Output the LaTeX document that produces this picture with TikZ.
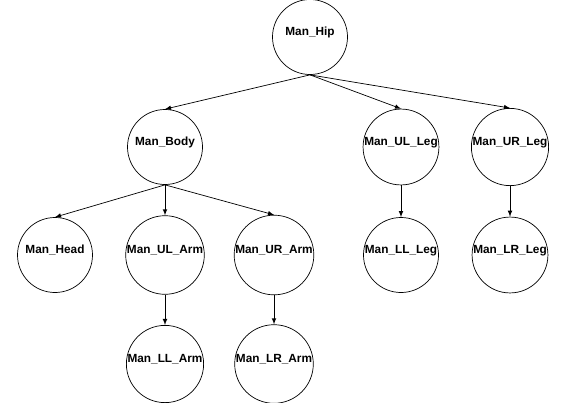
\documentclass[tikz,border=0pt]{standalone}
\usepackage{fontspec}
\setsansfont{Liberation Sans}
\usetikzlibrary{positioning}

\begin{document}
\begin{tikzpicture}[
    x=0.025cm, y=-0.025cm,
    joint/.style={draw, circle, minimum size=1.875cm, inner sep=0pt, line width=0.5pt, text height=6pt, text depth=8pt, font=\sffamily\bfseries\fontsize{8.4}{10}\selectfont},
    link/.style={->, line width=0.5pt},
    >=latex
]
    \useasboundingbox (0,0) rectangle (565,402);

    % Root
    \node[joint] (hip) at (310,37) {Man\_Hip};

    % Second row
    \node[joint] (body) at (165,147) {Man\_Body};
    \node[joint] (ulleg) at (401,147) {Man\_UL\_Leg};
    \node[joint] (urleg) at (510,147) {Man\_UR\_Leg};

    % Third row
    \node[joint] (head) at (55,255) {Man\_Head};
    \node[joint] (ularm) at (165,255) {Man\_UL\_Arm};
    \node[joint] (urarm) at (274,255) {Man\_UR\_Arm};
    \node[joint] (llleg) at (401,255) {Man\_LL\_Leg};
    \node[joint] (lrleg) at (510,255) {Man\_LR\_Leg};

    % Fourth row
    \node[joint] (llarm) at (165,364) {Man\_LL\_Arm};
    \node[joint] (lrarm) at (274,364) {Man\_LR\_Arm};

    % Edges
    \draw[link] (hip.south) -- (body.north);
    \draw[link] (hip.south) -- (ulleg.north);
    \draw[link] (hip.south) -- (urleg.north);
    \draw[link] (body.south) -- (head.north);
    \draw[link] (body.south) -- (ularm.north);
    \draw[link] (body.south) -- (urarm.north);
    \draw[link] (ulleg.south) -- (llleg.north);
    \draw[link] (urleg.south) -- (lrleg.north);
    \draw[link] (ularm.south) -- (llarm.north);
    \draw[link] (urarm.south) -- (lrarm.north);
\end{tikzpicture}
\end{document}
